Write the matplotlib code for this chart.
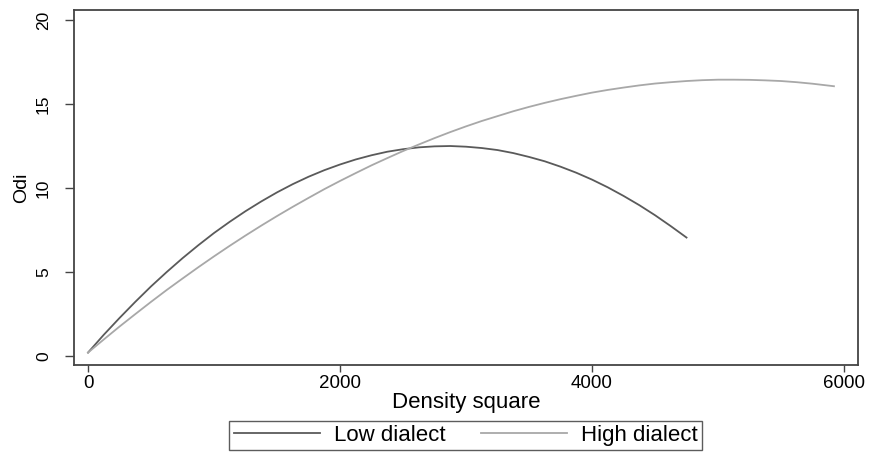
import matplotlib.pyplot as plt

plt.rcParams['font.family'] = ['Liberation Sans', 'DejaVu Sans']

# values
density_low = [0, 125, 250, 375, 500, 625, 750, 875, 1000, 1125, 1250, 1375,
               1500, 1625, 1750, 1875, 2000, 2125, 2250, 2375, 2500, 2625,
               2750, 2875, 3000, 3125, 3250, 3375, 3500, 3625, 3750, 3875,
               4000, 4125, 4250, 4375, 4500, 4625, 4750]
odi_low = [0.2, 1.26, 2.26, 3.22, 4.14, 5.0, 5.82, 6.59, 7.32, 7.99, 8.62, 9.2,
           9.74, 10.23, 10.67, 11.06, 11.40, 11.70, 11.95, 12.16, 12.31, 12.42,
           12.48, 12.50, 12.46, 12.38, 12.26, 12.08, 11.85, 11.59, 11.27, 10.91,
           10.50, 10.04, 9.53, 8.98, 8.38, 7.73, 7.05]

density_high = [0, 125, 250, 375, 500, 625, 750, 875, 1000, 1125, 1250, 1375,
                1500, 1625, 1750, 1875, 2000, 2125, 2250, 2375, 2500, 2625,
                2750, 2875, 3000, 3125, 3250, 3375, 3500, 3625, 3750, 3875,
                4000, 4125, 4250, 4375, 4500, 4625, 4750, 4875, 5000, 5125,
                5250, 5375, 5500, 5625, 5750, 5875, 5920]
odi_high = [0.2, 0.98, 1.75, 2.49, 3.22, 3.93, 4.61, 5.28, 5.93, 6.56, 7.17,
            7.76, 8.33, 8.88, 9.41, 9.93, 10.42, 10.89, 11.35, 11.78, 12.20,
            12.59, 12.97, 13.33, 13.67, 13.99, 14.28, 14.57, 14.83, 15.07,
            15.29, 15.49, 15.68, 15.84, 15.98, 16.11, 16.22, 16.30, 16.37,
            16.42, 16.45, 16.45, 16.44, 16.41, 16.37, 16.30, 16.21, 16.10, 16.06]

xticks = [0, 2000, 4000, 6000]
yticks = [0, 5, 10, 15, 20]

fig = plt.figure(figsize=(8.74, 4.54), dpi=100)
ax = fig.add_axes([0.0847, 0.196, 0.897, 0.782])

ax.plot(density_low, odi_low, color='#5a5a5a', lw=1.3, label='Low dialect')
ax.plot(density_high, odi_high, color='#a8a8a8', lw=1.3, label='High dialect')

ax.set_xlim(-111, 6111)
ax.set_ylim(-0.54, 20.6)
ax.set_xticks(xticks)
ax.set_yticks(yticks)
ax.tick_params(axis='x', direction='out', length=5, width=1, color='#444444',
               labelsize=13.5, pad=2.5)
ax.tick_params(axis='y', direction='out', length=6.5, width=1, color='#444444',
               labelsize=12.5, pad=10, labelrotation=90)
for lab in ax.get_yticklabels():
    lab.set_va('center')
for sp in ax.spines.values():
    sp.set_color('#444444')
    sp.set_linewidth(1.3)

ax.set_xlabel('Density square', fontsize=16, labelpad=0)
ax.set_ylabel('Odi', fontsize=14, labelpad=4)

leg = fig.legend(loc='center', bbox_to_anchor=(0.533, 0.0407),
                 ncol=2, fontsize=16, frameon=True, fancybox=False,
                 handlelength=3.87, columnspacing=1.62, borderpad=0.2,
                 handletextpad=0.63)
leg.get_frame().set_edgecolor('#333333')
leg.get_frame().set_linewidth(1.0)

fig.savefig('out.png', dpi=100)
